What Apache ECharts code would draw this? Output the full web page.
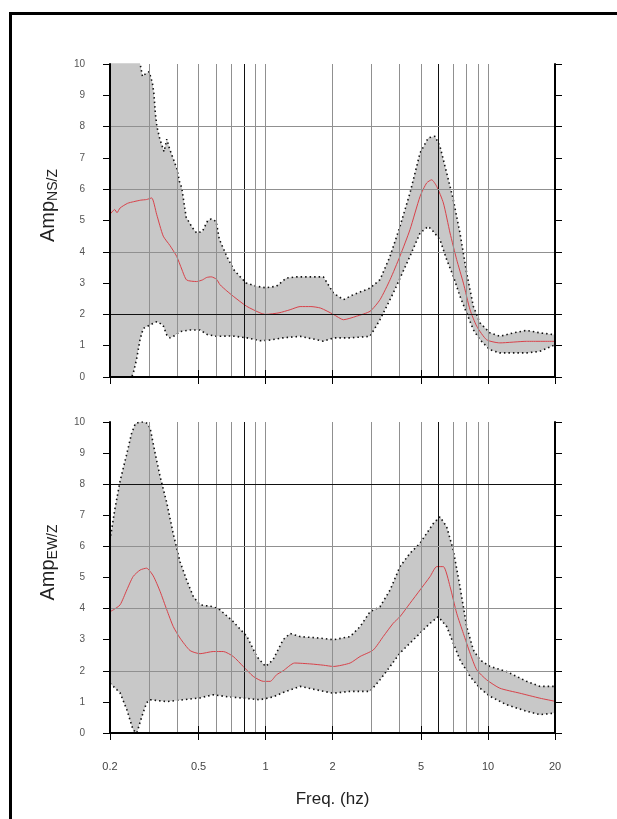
<!DOCTYPE html>
<html>
<head>
<meta charset="utf-8">
<script src="https://cdn.jsdelivr.net/npm/echarts@6/dist/echarts.min.js"></script>
<style>
  html, body { margin: 0; padding: 0; background: #fff; }
  #main { width: 617px; height: 819px; }
</style>
</head>
<body>
<div id="main"></div>
<script>
// frequency (hz) / amplitude ratio pairs
const nsUpper = [
  [0.2, 12], [0.26, 12], [0.27, 10.2], [0.28, 9.6], [0.29, 9.7], [0.3, 9.75], [0.31, 9.4],
  [0.315, 9.05], [0.32, 8.4], [0.325, 8.0], [0.335, 7.6], [0.35, 7.2], [0.36, 7.6], [0.37, 7.3],
  [0.4, 6.65], [0.41, 6.25], [0.42, 6.05], [0.44, 5.1], [0.47, 4.76], [0.49, 4.6], [0.52, 4.65],
  [0.55, 5.0], [0.57, 5.05], [0.6, 4.97], [0.62, 4.4], [0.67, 3.85], [0.72, 3.43], [0.77, 3.2],
  [0.82, 3.0], [0.91, 2.9], [1.0, 2.85], [1.12, 2.9], [1.24, 3.16], [1.38, 3.2], [1.82, 3.2],
  [2.02, 2.68], [2.24, 2.47], [2.48, 2.63], [2.95, 2.84], [3.27, 3.11], [3.63, 3.86], [4.02, 4.81],
  [4.46, 5.88], [4.95, 7.16], [5.39, 7.64], [5.78, 7.69], [6.08, 7.37], [6.52, 6.52], [6.98, 5.67],
  [7.48, 4.6], [8.02, 3.32], [8.59, 2.26], [9.2, 1.73], [10.2, 1.41], [11.3, 1.3], [13, 1.41],
  [14.9, 1.49], [17.1, 1.41], [20, 1.35]
];
const nsLower = [
  [0.2, 0], [0.25, 0], [0.254, 0.1], [0.263, 0.55], [0.273, 1.2], [0.282, 1.55], [0.293, 1.61],
  [0.31, 1.7], [0.325, 1.77], [0.346, 1.66], [0.36, 1.34], [0.372, 1.25], [0.39, 1.32], [0.413, 1.45],
  [0.458, 1.5], [0.508, 1.5], [0.546, 1.36], [0.6, 1.3], [0.71, 1.31], [0.826, 1.25], [0.944, 1.16],
  [1.05, 1.18], [1.2, 1.25], [1.43, 1.3], [1.7, 1.19], [1.82, 1.14], [2.02, 1.25], [2.4, 1.25],
  [2.95, 1.3], [3.27, 1.83], [3.75, 2.68], [4.46, 3.86], [4.95, 4.6], [5.39, 4.81], [5.68, 4.65],
  [6.08, 4.39], [6.52, 3.75], [6.98, 3.22], [7.48, 2.58], [8.02, 2.04], [8.59, 1.51], [9.2, 1.19],
  [10.2, 0.87], [11.3, 0.77], [14.9, 0.77], [17.1, 0.82], [20, 1.03]
];
const nsMean = [
  [0.2, 5.2], [0.21, 5.35], [0.215, 5.25], [0.222, 5.4], [0.24, 5.55], [0.255, 5.6], [0.275, 5.65],
  [0.292, 5.67], [0.308, 5.72], [0.324, 5.2], [0.347, 4.5], [0.372, 4.2], [0.399, 3.85], [0.42, 3.45],
  [0.442, 3.1], [0.49, 3.05], [0.52, 3.1], [0.544, 3.18], [0.57, 3.2], [0.603, 3.12], [0.624, 2.95],
  [0.67, 2.75], [0.716, 2.58], [0.822, 2.26], [0.944, 2.05], [1.0, 2.0], [1.15, 2.05], [1.29, 2.15],
  [1.43, 2.25], [1.6, 2.25], [1.77, 2.2], [2.02, 2.0], [2.24, 1.83], [2.56, 1.94], [2.95, 2.1],
  [3.27, 2.47], [3.63, 3.11], [4.02, 3.86], [4.46, 4.71], [4.95, 5.77], [5.3, 6.2], [5.58, 6.3],
  [5.88, 6.09], [6.3, 5.56], [6.75, 4.6], [7.23, 3.75], [7.75, 3.0], [8.3, 2.15], [8.9, 1.62],
  [9.86, 1.19], [11.3, 1.09], [14.9, 1.14], [20, 1.14]
];

const ewUpper = [
  [0.2, 6.2], [0.21, 7.17], [0.222, 8.1], [0.238, 8.98], [0.25, 9.63], [0.26, 9.95], [0.272, 10.0],
  [0.286, 10.0], [0.295, 9.95], [0.303, 9.8], [0.319, 9.0], [0.336, 8.24], [0.36, 7.4], [0.385, 6.4],
  [0.413, 5.5], [0.442, 4.92], [0.474, 4.38], [0.508, 4.12], [0.582, 4.06], [0.624, 3.96], [0.716, 3.58],
  [0.826, 3.1], [0.913, 2.46], [1.0, 2.14], [1.08, 2.35], [1.2, 3.0], [1.29, 3.2], [1.43, 3.1],
  [1.76, 3.05], [2.02, 3.0], [2.4, 3.1], [2.66, 3.42], [2.95, 3.9], [3.27, 4.06], [3.63, 4.6],
  [4.02, 5.35], [4.46, 5.78], [4.95, 6.1], [5.3, 6.42], [5.68, 6.74], [6.08, 6.95], [6.52, 6.63],
  [6.98, 5.88], [7.48, 4.71], [8.02, 3.42], [8.59, 2.67], [9.2, 2.35], [10.2, 2.14], [12.1, 1.98],
  [14.9, 1.66], [17.1, 1.5], [20, 1.5]
];
const ewLower = [
  [0.2, 1.6], [0.207, 1.5], [0.222, 1.29], [0.238, 0.75], [0.254, 0.1], [0.264, 0], [0.278, 0.53],
  [0.292, 0.97], [0.303, 1.07], [0.36, 1.01], [0.427, 1.07], [0.508, 1.13], [0.582, 1.23],
  [0.669, 1.17], [0.768, 1.13], [0.944, 1.07], [1.08, 1.16], [1.2, 1.3], [1.43, 1.5], [1.82, 1.34],
  [2.02, 1.28], [2.4, 1.34], [2.95, 1.34], [3.27, 1.71], [3.63, 2.14], [4.02, 2.57], [4.46, 2.89],
  [4.95, 3.21], [5.49, 3.53], [5.98, 3.74], [6.52, 3.42], [6.98, 2.89], [7.48, 2.35], [8.3, 1.82],
  [9.2, 1.44], [10.2, 1.18], [12.1, 0.91], [14.9, 0.7], [17.1, 0.59], [20, 0.64]
];
const ewMean = [
  [0.2, 3.9], [0.207, 3.96], [0.222, 4.12], [0.238, 4.6], [0.254, 5.03], [0.273, 5.24], [0.292, 5.3],
  [0.313, 5.05], [0.336, 4.55], [0.36, 3.96], [0.385, 3.42], [0.413, 3.05], [0.458, 2.65],
  [0.508, 2.55], [0.582, 2.62], [0.646, 2.62], [0.716, 2.46], [0.794, 2.14], [0.881, 1.82],
  [0.978, 1.66], [1.05, 1.66], [1.12, 1.87], [1.2, 2.0], [1.35, 2.25], [1.6, 2.22], [1.82, 2.18],
  [2.02, 2.14], [2.4, 2.25], [2.66, 2.46], [3.05, 2.67], [3.38, 3.1], [3.75, 3.53], [4.02, 3.74],
  [4.46, 4.17], [4.95, 4.6], [5.49, 5.03], [5.88, 5.35], [6.3, 5.35], [6.75, 4.71], [7.23, 3.85],
  [7.75, 3.2], [8.3, 2.57], [8.9, 2.03], [9.86, 1.71], [11.3, 1.44], [13.9, 1.28], [17.1, 1.12],
  [20, 1.02]
];

// axis ticks and grid positions
const freqTicks = [0.2, 0.5, 1, 2, 5, 10, 20];
const freqGrid = [0.3, 0.4, 0.5, 0.6, 0.7, 0.9, 1, 2, 3, 4, 5, 7, 8, 9, 10];
const freqGridDark = [0.8, 6];
const ampGrid = [2, 4, 6, 8];

const font = 'Liberation Sans, Arial, sans-serif';

function xAxisCfg(gi, pos, labels) {
  return {
    type: 'log', logBase: 10, gridIndex: gi, min: 0.2, max: 20, position: pos, z: 5,
    axisLine: { show: true, lineStyle: { color: '#000', width: 2 } },
    axisTick: { show: true, inside: false, length: 7, customValues: freqTicks, lineStyle: { color: '#000', width: 1 } },
    axisLabel: {
      show: labels, customValues: freqTicks, margin: 28, fontSize: 11, color: '#444', fontFamily: font,
      formatter: v => String(+(+v).toPrecision(3))
    },
    splitLine: { show: false }, minorTick: { show: false }
  };
}
function yAxisCfg(gi, pos, labels, nameText) {
  const a = {
    type: 'value', gridIndex: gi, min: 0, max: 10, interval: 1, position: pos, z: 5,
    axisLine: { show: true, lineStyle: { color: '#000', width: 2 } },
    axisTick: { show: true, inside: false, length: 7, lineStyle: { color: '#000', width: 1 } },
    axisLabel: { show: labels, margin: 25, fontSize: 10, color: '#555', fontFamily: font },
    splitLine: { show: false }
  };
  if (nameText) {
    a.name = '{a|Amp}{b|' + nameText + '}';
    a.nameLocation = 'middle';
    a.nameGap = 50;
    a.nameRotate = 90;
    a.nameTextStyle = {
      padding: [0, 0, 0, 30],
      rich: {
        a: { fontSize: 20, fontFamily: font, color: '#222', lineHeight: 24 },
        b: { fontSize: 14, fontFamily: font, color: '#222', verticalAlign: 'bottom', lineHeight: 24, padding: [6, 0, 0, 0] }
      }
    };
  }
  return a;
}

function gridMarks(darkAmp) {
  const grey = { color: '#909090', width: 1, type: 'solid' };
  const dark = { color: '#111', width: 1, type: 'solid' };
  const data = [];
  freqGrid.forEach(f => data.push({ xAxis: f, lineStyle: grey }));
  freqGridDark.forEach(f => data.push({ xAxis: f, lineStyle: dark }));
  ampGrid.forEach(v => data.push({ yAxis: v, lineStyle: v === darkAmp ? dark : grey }));
  return { silent: true, symbol: 'none', label: { show: false }, animation: false, data: data };
}

function panel(gi, upper, lower, mean, darkAmp) {
  const dotted = { color: '#111', width: 1.6, type: [1.5, 3] };
  return [
    { type: 'line', xAxisIndex: gi * 2, yAxisIndex: gi * 2, data: upper, showSymbol: false, z: 1,
      lineStyle: dotted, areaStyle: { color: '#c8c8c8', opacity: 1 } },
    { type: 'line', xAxisIndex: gi * 2, yAxisIndex: gi * 2, data: lower, showSymbol: false, z: 1,
      lineStyle: dotted, areaStyle: { color: '#ffffff', opacity: 1 } },
    { type: 'line', xAxisIndex: gi * 2, yAxisIndex: gi * 2, data: [], z: 2, markLine: gridMarks(darkAmp) },
    { type: 'line', xAxisIndex: gi * 2, yAxisIndex: gi * 2, data: mean, showSymbol: false, z: 3,
      smooth: 0.2, lineStyle: { color: '#d8424a', width: 1 } }
  ];
}

const chart = echarts.init(document.getElementById('main'));
const option = {
  animation: false,
  backgroundColor: '#fff',
  grid: [
    { left: 110, width: 445, top: 64, height: 313 },
    { left: 110, width: 445, top: 422, height: 311 }
  ],
  xAxis: [
    xAxisCfg(0, 'bottom', false), xAxisCfg(0, 'top', false),
    Object.assign(xAxisCfg(1, 'bottom', true), {
      name: 'Freq. (hz)', nameLocation: 'middle', nameGap: 58,
      nameTextStyle: { fontSize: 17, color: '#222', fontFamily: font }
    }),
    xAxisCfg(1, 'top', false)
  ],
  yAxis: [
    yAxisCfg(0, 'left', true, 'NS/Z'), yAxisCfg(0, 'right', false),
    yAxisCfg(1, 'left', true, 'EW/Z'), yAxisCfg(1, 'right', false)
  ],
  series: panel(0, nsUpper, nsLower, nsMean, 2).concat(panel(1, ewUpper, ewLower, ewMean, 8)),
  graphic: [
    { type: 'rect', left: 8, top: 11, z: 100, silent: true,
      shape: { width: 640, height: 840 },
      style: { fill: 'none', stroke: '#000', lineWidth: 3 } }
  ]
};
chart.setOption(option);
</script>
</body>
</html>
